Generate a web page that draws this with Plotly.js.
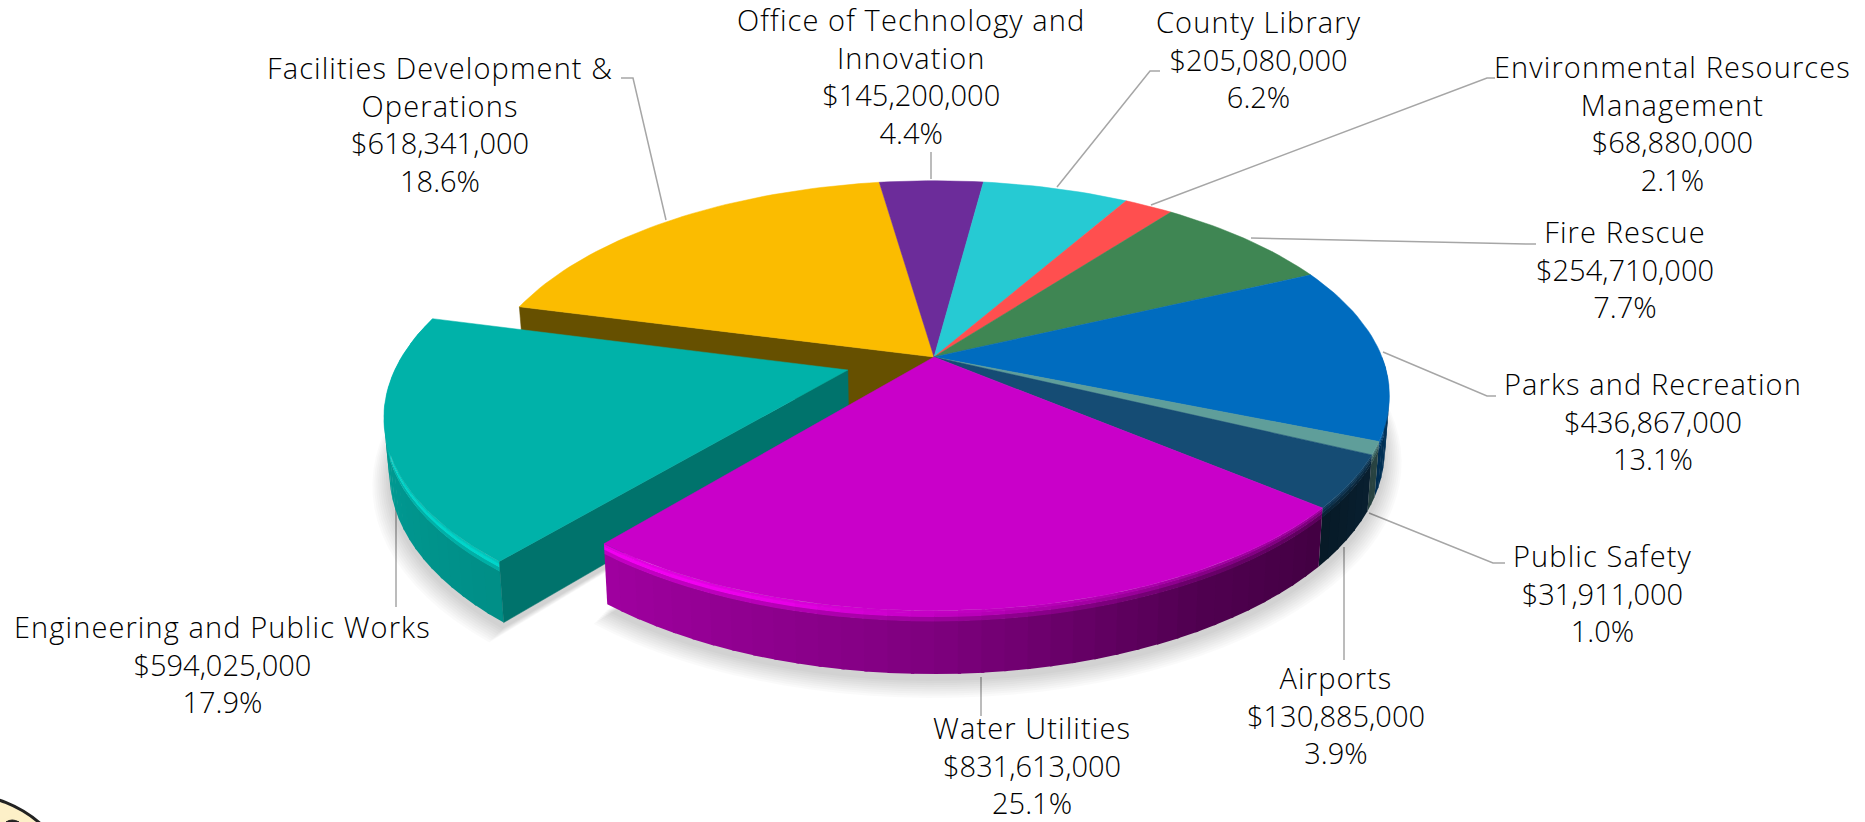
<!DOCTYPE html>
<html>
<head>
<meta charset="utf-8">
<script src="https://cdn.plot.ly/plotly-3.0.1.min.js"></script>
<style>html,body{margin:0;padding:0;background:#fff;overflow:hidden}#chart{width:1865px;height:822px}</style>
</head>
<body>
<div id="chart"></div>
<script>
// ---- data ----
const categories = ["Office of Technology and<br>Innovation","County Library","Environmental Resources<br>Management","Fire Rescue","Parks and Recreation","Public Safety","Airports","Water Utilities","Engineering and Public Works","Facilities Development &<br>Operations"];
const values = [145200000,205080000,68880000,254710000,436867000,31911000,130885000,831613000,594025000,618341000];
const percents = ["4.4%","6.2%","2.1%","7.7%","13.1%","1.0%","3.9%","25.1%","17.9%","18.6%"];
const colors = ["#6C2C9A","#26CAD3","#FF4F4F","#3F8653","#006CBF","#5F9E9A","#154C74","#C900C9","#00B2A9","#FBBC00"];
// label block centres, in pixels
const labelX = [911,1258,1672,1625,1653,1602,1336,1032,222,440];
const labelY = [76,59,123,269,421,593,715,765,664,124];

// ---- projection of the pie (perspective view of a unit disc) ----
const CX=934, CY=357, A=448, B=208, K=0.18, DEPTH=52;
const total = values.reduce((a,b)=>a+b,0);
const START = -values[0]/total*180-0.4;
const edges=[START];
values.forEach(v=>edges.push(edges[edges.length-1]+v/total*360));
edges[8]-=0.8;   // the view's foreshortening at the front-left seam
const uv=(deg,r=1)=>{const t=deg*Math.PI/180;return [r*Math.sin(t),r*Math.cos(t)];};
function proj(u,v,d=0){const w=1+K*v;const s=1-0.01*d/DEPTH;return [CX+A*u/w*s,CY-B*v/w+d/w];}
const EXPLODE=0.2;
const midE=(edges[8]+edges[9])/2;
const off=uv(midE,EXPLODE);
const noOff=[0,0];

function lerpTable(tbl,x){
  if(x<=tbl[0][0])return tbl[0][1];
  for(let i=1;i<tbl.length;i++){if(x<=tbl[i][0]){const a=tbl[i-1],b=tbl[i];return a[1]+(b[1]-a[1])*(x-a[0])/(b[0]-a[0]);}}
  return tbl[tbl.length-1][1];
}
const wallTbl=[[90,.48],[115,.42],[130,.33],[150,.40],[180,.63],[220,.80],[250,.86],[290,.90]];
const hlTbl=[[170,1.0],[205,1.2],[300,1.2]];
const blendTbl=[[150,0],[195,1]];
const hex=c=>[1,3,5].map(i=>parseInt(c.substr(i,2),16));
const rgb=a=>`rgb(${a.map(x=>Math.max(0,Math.min(255,Math.round(x)))).join(",")})`;
const scale=(a,f)=>a.map(x=>x*f);
const mix=(a,b,t)=>a.map((x,i)=>x+(b[i]-x)*t);

const traces=[];
function poly(pts,color,lw=1,name){
  traces.push({type:"scatter",mode:"lines",x:pts.map(p=>p[0]),y:pts.map(p=>p[1]),fill:"toself",fillcolor:color,
    line:{color:color,width:lw,shape:"linear"},hoverinfo:"skip",showlegend:false,name:name||""});
}
function topFace(i,o){
  const pts=[proj(o[0],o[1])];
  const n=Math.max(6,Math.ceil((edges[i+1]-edges[i])/1.5));
  for(let k=0;k<=n;k++){const [u,v]=uv(edges[i]+(edges[i+1]-edges[i])*k/n);pts.push(proj(u+o[0],v+o[1]));}
  pts.push(pts[0]);
  poly(pts,colors[i],0.5,categories[i]);
}
function radialWall(deg,o,color,depth=DEPTH){
  const [u,v]=uv(deg);
  const a=proj(o[0],o[1]),b=proj(u+o[0],v+o[1]),c=proj(u+o[0],v+o[1],depth),d=proj(o[0],o[1],depth);
  poly([a,b,c,d,a],color,0.5);
}
function arcWall(i,o,a0,a1){
  const top=hex(colors[i]);
  const from=a0===undefined?edges[i]:a0, to=a1===undefined?edges[i+1]:a1;
  const n=Math.max(2,Math.ceil((to-from)/2.5));
  const bands=[[.16,1,"d"],[.09,.17,"c"],[.035,.10,"b"],[0,.045,"a"]];
  // painted from the far end of the sweep, each strip slightly over its neighbour
  for(let k=n-1;k>=0;k--){
    const d0=from+(to-from)*k/n,d1=Math.min(to,from+(to-from)*(k+1)/n+0.35),m=from+(to-from)*(k+.5)/n;
    const wall=scale(top,lerpTable(wallTbl,m));
    const lit=scale(top,lerpTable(hlTbl,m));
    const hl=mix(mix(top,wall,.55),lit,lerpTable(blendTbl,m));
    const cols={a:mix(top,hl,.6),b:hl,c:mix(hl,wall,.55),d:wall};
    const [u0,v0]=uv(d0),[u1,v1]=uv(d1);
    bands.forEach(b=>{
      const p0=proj(u0+o[0],v0+o[1],DEPTH*b[0]),p1=proj(u1+o[0],v1+o[1],DEPTH*b[0]);
      const p2=proj(u1+o[0],v1+o[1],DEPTH*b[1]),p3=proj(u0+o[0],v0+o[1],DEPTH*b[1]);
      poly([p0,p1,p2,p3,p0],rgb(cols[b[2]]),0);
    });
  }
}
function shadow(from,to,o){
  for(let l=9;l>=1;l--){
    const r=1+l*0.0042, pts=[proj(o[0],o[1],DEPTH+4)];
    const n=Math.ceil((to-from)/3);
    for(let k=0;k<=n;k++){const [u,v]=uv(from+(to-from)*k/n,r);pts.push(proj(u+o[0],v+o[1],DEPTH+4+l*0.6));}
    pts.push(pts[0]);
    traces.push({type:"scatter",mode:"lines",x:pts.map(p=>p[0]),y:pts.map(p=>p[1]),fill:"toself",fillcolor:"rgba(0,0,0,0.021)",
      line:{width:0},hoverinfo:"skip",showlegend:false});
  }
}
// back to front
shadow(edges[9]-360,edges[8],noOff);
shadow(edges[8],edges[9],off);
radialWall(edges[9],noOff,"#665000",60);
[9,0,1,2,3].forEach(i=>topFace(i,noOff));
arcWall(4,noOff,90);
arcWall(5,noOff);
arcWall(6,noOff);
// pulled-out slice
arcWall(8,off);
radialWall(edges[8],off,"#00736C");
topFace(8,off);
// largest slice, in front
arcWall(7,noOff);
[4,5,6,7].forEach(i=>topFace(i,noOff));

// ---- labels ----
const money=v=>"$"+v.toLocaleString("en-US");
const wide=s=>s.split("<br>").map(t=>`<span style="letter-spacing:1.1px">${t}</span>`).join("<br>");
const annotations=categories.map((c,i)=>({
  x:labelX[i],y:labelY[i],xref:"x",yref:"y",xanchor:"center",yanchor:"middle",showarrow:false,align:"center",
  text:`${wide(c)}<br>${money(values[i])}<br>${percents[i]}`,
  font:{family:"Open Sans, sans-serif",size:29,weight:300,color:"#000"}
}));

// ---- leader lines ----
const leaders=[
 "M931,152 L931,179",
 "M1057,187 L1150,71 L1160,71",
 "M1151,205 L1487,78 L1495,78",
 "M1251,238 L1526,244 L1536,244",
 "M1383,352 L1487,396 L1496,396",
 "M1369,513 L1493,563 L1505,563",
 "M1344,547 L1344,660",
 "M981,677 L981,716",
 "M396,503 L396,607",
 "M666,220 L633,78 L621,78"
];
const shapes=leaders.map(p=>({type:"path",path:p,xref:"x",yref:"y",line:{color:"#A6A6A6",width:1.5},layer:"below"}));
// seal in the bottom-left corner
shapes.push({type:"circle",xref:"x",yref:"y",x0:-158.6,y0:794,x1:81.4,y1:1034,fillcolor:"#FDF0C8",line:{color:"#222",width:3},layer:"above"});
shapes.push({type:"path",xref:"x",yref:"y",path:"M6,822 Q12,818 19,822 Z",fillcolor:"#222",line:{color:"#222",width:1},layer:"above"});

Plotly.newPlot("chart",traces,{
  width:1865,height:822,margin:{l:0,r:0,t:0,b:0},paper_bgcolor:"#fff",plot_bgcolor:"#fff",showlegend:false,hovermode:false,
  xaxis:{range:[0,1865],visible:false,fixedrange:true},
  yaxis:{range:[822,0],visible:false,fixedrange:true},
  annotations:annotations,shapes:shapes
},{displayModeBar:false,staticPlot:true});
</script>
</body>
</html>
